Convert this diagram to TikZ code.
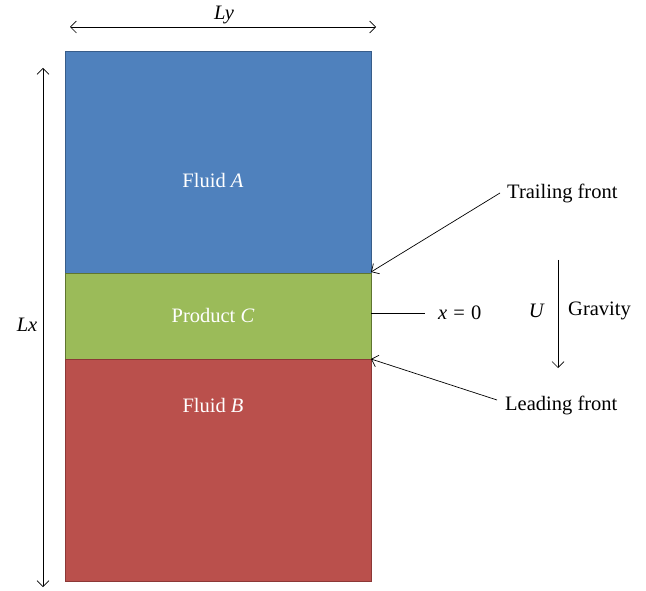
\documentclass[tikz,border=0pt]{standalone}
\usepackage{fontspec}
\setmainfont{Liberation Serif}
\usetikzlibrary{arrows.meta}
\definecolor{fa}{HTML}{4F81BD}
\definecolor{fab}{HTML}{385D8A}
\definecolor{fc}{HTML}{9BBB59}
\definecolor{fcb}{HTML}{5F7530}
\definecolor{fb}{HTML}{BA504C}
\definecolor{fbb}{HTML}{8C3836}
\tikzset{
  layer/.style={draw=#1, line width=0.8pt, minimum width=306pt, inner sep=0pt, outer sep=0pt},
  lbl/.style={font=\fontsize{20.5}{23}\selectfont, inner sep=1pt, yshift=-2pt},
  wlbl/.style={lbl, text=white},
  arr/.style={-{Straight Barb[length=6pt,width=12pt]}, line width=0.7pt},
  darr/.style={{Straight Barb[length=6pt,width=12pt]}-{Straight Barb[length=6pt,width=12pt]}, line width=0.7pt}
}
\begin{document}
\begin{tikzpicture}[x=1pt,y=-1pt]
\useasboundingbox (0,0) rectangle (646,591);
\node[layer=fab, fill=fa, minimum height=222pt] (A) at (218,162) {};
\node[layer=fcb, fill=fc, minimum height=86pt] (C) at (218,316) {};
\node[layer=fbb, fill=fb, minimum height=222pt] (B) at (218,470) {};
\node[wlbl] (tA) at (213,178) {Fluid \textit{A}};
\node[wlbl] (tC) at (213,313) {Product \textit{C}};
\node[wlbl] (tB) at (213,403) {Fluid \textit{B}};
% dimensions
\coordinate (ly1) at (70,27);
\coordinate (ly2) at (376,27);
\draw[darr] (ly1) -- (ly2);
\node[lbl] (Ly) at (224,13) {\textit{Ly}};
\coordinate (lx1) at (43,68);
\coordinate (lx2) at (43,587);
\draw[darr] (lx1) -- (lx2);
\node[lbl] (Lx) at (27,323) {\textit{Lx}};
% fronts
\node[lbl, anchor=west] (tf) at (506,191) {Trailing front};
\coordinate (tfp) at (371,272);
\coordinate (tfs) at (500,193);
\draw[arr] (tfs) -- (tfp);
\node[lbl, anchor=west] (lf) at (504,403) {Leading front};
\coordinate (lfp) at (371,359);
\coordinate (lfs) at (497,400);
\draw[arr] (lfs) -- (lfp);
% x = 0
\node[lbl, anchor=west] (x0) at (437,311) {\textit{x}\hspace{0.3em}=\hspace{0.3em}0};
\coordinate (x0r) at (371,313);
\coordinate (x0l) at (425,313);
\draw[line width=0.7pt] (x0r) -- (x0l);
% gravity
\coordinate (g1) at (558,260);
\coordinate (g2) at (558,368);
\draw[arr] (g1) -- (g2);
\node[lbl, anchor=east] (U) at (546,309) {\textit{U}};
\node[lbl, anchor=west] (G) at (567,309) {Gravity};
\end{tikzpicture}
\end{document}
